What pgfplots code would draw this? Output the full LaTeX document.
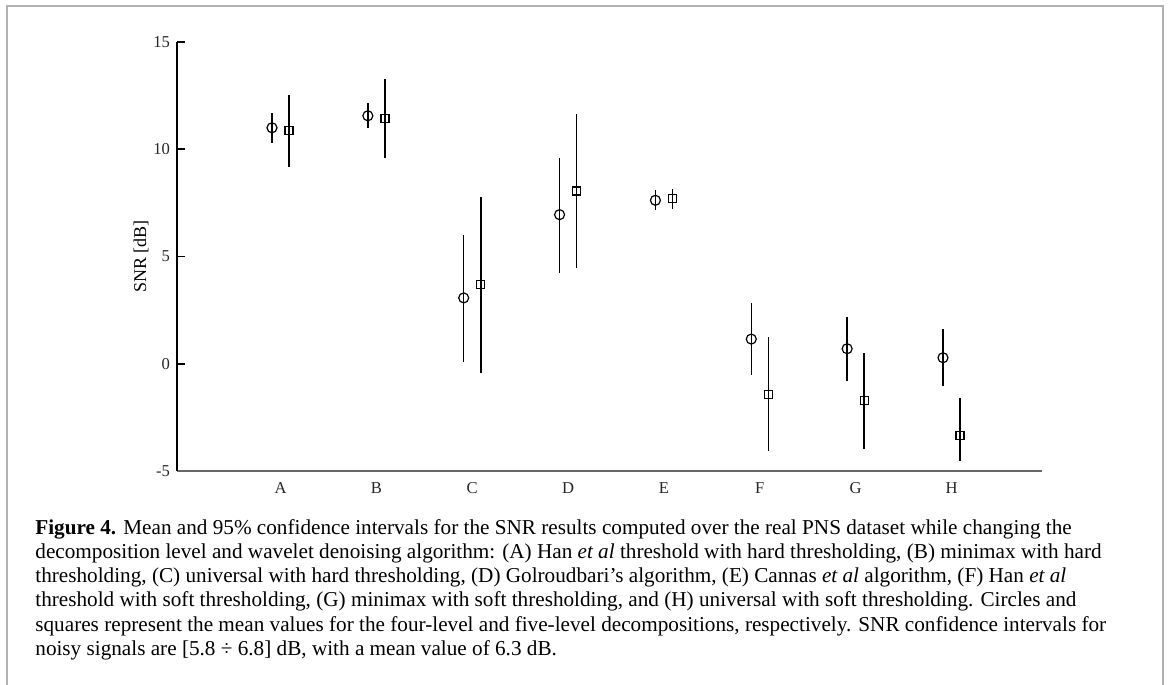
\documentclass[border=0pt]{standalone}
\usepackage{fontspec}
\setmainfont{Liberation Serif}
\usepackage{pgfplots}
\pgfplotsset{compat=1.18}
\usepackage{pgfplotstable}

\pgfplotstableread{
x y ep em
0.911 11.00 0.67 0.70
1.911 11.56 0.58 0.59
2.911 3.07 2.94 2.98
3.911 6.95 2.66 2.70
4.911 7.62 0.46 0.47
5.911 1.15 1.69 1.66
6.911 0.70 1.50 1.51
7.911 0.28 1.36 1.32
}\circles

\pgfplotstableread{
x y ep em
1.089 10.86 1.66 1.69
2.089 11.43 1.83 1.82
3.089 3.71 4.06 4.12
4.089 8.05 3.59 3.58
5.089 7.70 0.43 0.47
6.089 -1.42 2.65 2.65
7.089 -1.71 2.21 2.25
8.089 -3.33 1.73 1.19
}\squares

\begin{document}
\begin{tikzpicture}
\useasboundingbox (0,0) rectangle (585pt,342pt);
\draw[gray!60, line width=1pt] (3.5pt,-2pt) -- (3.5pt,339pt) -- (581.5pt,339pt) -- (581.5pt,-2pt);
\begin{axis}[
  at={(88.5pt,106.5pt)}, anchor=south west,
  scale only axis, width=432.5pt, height=214.5pt,
  xmin=-0.080, xmax=8.944, ymin=-5, ymax=15,
  axis lines*=left,
  x axis line style={line width=0.9pt, draw=black!60},
  y axis line style={line width=0.8pt, draw=black},
  xtick={1,2,3,4,5,6,7,8},
  xticklabels={A,B,C,D,E,F,G,H},
  xtick style={draw=none},
  ytick={-5,0,5,10,15},
  yticklabels={-5,0,5,10,15},
  ytick style={line width=0.8pt, black},
  major tick length=4pt,
  tick align=inside,
  ticklabel style={font=\fontsize{8.3}{10}\selectfont, text=black!85},
  xticklabel style={yshift=-2pt, text height=5.6pt, text depth=0pt},
  ylabel={SNR [dB]},
  every axis y label/.style={at={(axis description cs:-0.0416,0.5)}, rotate=90, anchor=center, font=\fontsize{9}{11}\selectfont},
  clip=false,
]
\addplot[only marks, mark=o, mark size=2.5pt, black, mark options={line width=0.6pt},
  error bars/.cd, y dir=both, y explicit, error mark=none,
  error bar style={line width=0.75pt, black}]
  table[x=x, y=y, y error plus=ep, y error minus=em] {\circles};
\addplot[only marks, mark=square, mark size=2pt, black, mark options={line width=0.6pt},
  error bars/.cd, y dir=both, y explicit, error mark=none,
  error bar style={line width=0.75pt, black}]
  table[x=x, y=y, y error plus=ep, y error minus=em] {\squares};
\end{axis}
\begin{scope}[every node/.style={anchor=base west, inner sep=0pt, font=\fontsize{10.6}{12}\selectfont}]
\node at (17.5pt,74.5pt) {\textbf{Figure 4.} Mean and 95\% confidence intervals for the SNR results computed over the real PNS dataset while changing the};
\node at (17.5pt,62.5pt) {decomposition level and wavelet denoising algorithm: (A) Han \textit{et al} threshold with hard thresholding, (B) minimax with hard};
\node at (17.5pt,50.5pt) {thresholding, (C) universal with hard thresholding, (D) Golroudbari’s algorithm, (E) Cannas \textit{et al} algorithm, (F) Han \textit{et al}};
\node at (17.5pt,38.5pt) {threshold with soft thresholding, (G) minimax with soft thresholding, and (H) universal with soft thresholding. Circles and};
\node at (17.5pt,26.5pt) {squares represent the mean values for the four-level and five-level decompositions, respectively. SNR confidence intervals for};
\node at (17.5pt,14.5pt) {noisy signals are [5.8 ÷ 6.8] dB, with a mean value of 6.3 dB.};
\end{scope}
\end{tikzpicture}
\end{document}
